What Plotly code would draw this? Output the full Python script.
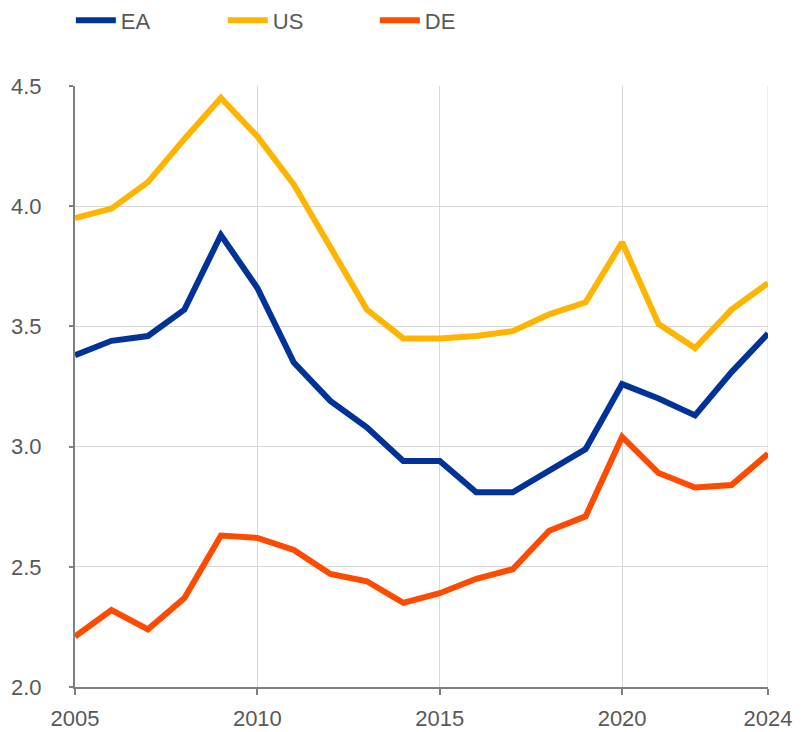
import plotly.graph_objects as go

years = list(range(2005, 2025))

ea = [3.38, 3.44, 3.46, 3.57, 3.88, 3.66, 3.35, 3.19, 3.08, 2.94,
      2.94, 2.81, 2.81, 2.90, 2.99, 3.26, 3.20, 3.13, 3.31, 3.47]
us = [3.95, 3.99, 4.10, 4.28, 4.45, 4.29, 4.09, 3.83, 3.57, 3.45,
      3.45, 3.46, 3.48, 3.55, 3.60, 3.85, 3.51, 3.41, 3.57, 3.68]
de = [2.21, 2.32, 2.24, 2.37, 2.63, 2.62, 2.57, 2.47, 2.44, 2.35,
      2.39, 2.45, 2.49, 2.65, 2.71, 3.04, 2.89, 2.83, 2.84, 2.97]

series = [("EA", ea, "#003299"), ("US", us, "#FFB400"), ("DE", de, "#FF4B00")]

x_ticks = [2005, 2010, 2015, 2020, 2024]
y_ticks = [2.0, 2.5, 3.0, 3.5, 4.0, 4.5]

font_family = "Liberation Sans Narrow, Arial Narrow, Liberation Sans, Arial"
grey = "#595959"

fig = go.Figure()
for name, vals, col in series:
    fig.add_trace(go.Scatter(x=years, y=vals, name=name, mode="lines",
                             line=dict(color=col, width=6)))

# page body has an 8px margin, so the figure is a bit smaller than the window
fig.update_layout(
    width=803, height=724,
    margin=dict(l=67, r=43, t=78, b=45, autoexpand=False),
    plot_bgcolor="white", paper_bgcolor="white",
    font=dict(family=font_family, size=22, color=grey),
    showlegend=True,
    legend=dict(orientation="h", x=-0.006, xanchor="left",
                y=1.144, yanchor="top",
                entrywidth=97, entrywidthmode="pixels",
                font=dict(size=22, color=grey), itemwidth=40,
                bgcolor="rgba(0,0,0,0)"),
)
fig.update_xaxes(
    range=[2005, 2024], tickvals=x_ticks, ticktext=[str(t) for t in x_ticks],
    showgrid=True, gridcolor="#d9d9d9", gridwidth=1,
    showline=True, linecolor="#808080", linewidth=2,
    ticks="outside", ticklen=6, tickcolor="#808080", tickwidth=2,
    ticklabelstandoff=5, mirror=False, zeroline=False,
)
fig.update_yaxes(
    range=[2.0, 4.5], tickvals=y_ticks, ticktext=[f"{t:.1f}" for t in y_ticks],
    showgrid=True, gridcolor="#d9d9d9", gridwidth=1,
    showline=True, linecolor="#808080", linewidth=2,
    ticks="outside", ticklen=4, tickcolor="#808080", tickwidth=2,
    ticklabelstandoff=23, zeroline=False,
)
# right border at 2024
fig.add_shape(type="line", xref="x", yref="paper", x0=2024, x1=2024, y0=0, y1=1,
              line=dict(color="#d9d9d9", width=1), layer="below")

fig.write_html("out.html")
